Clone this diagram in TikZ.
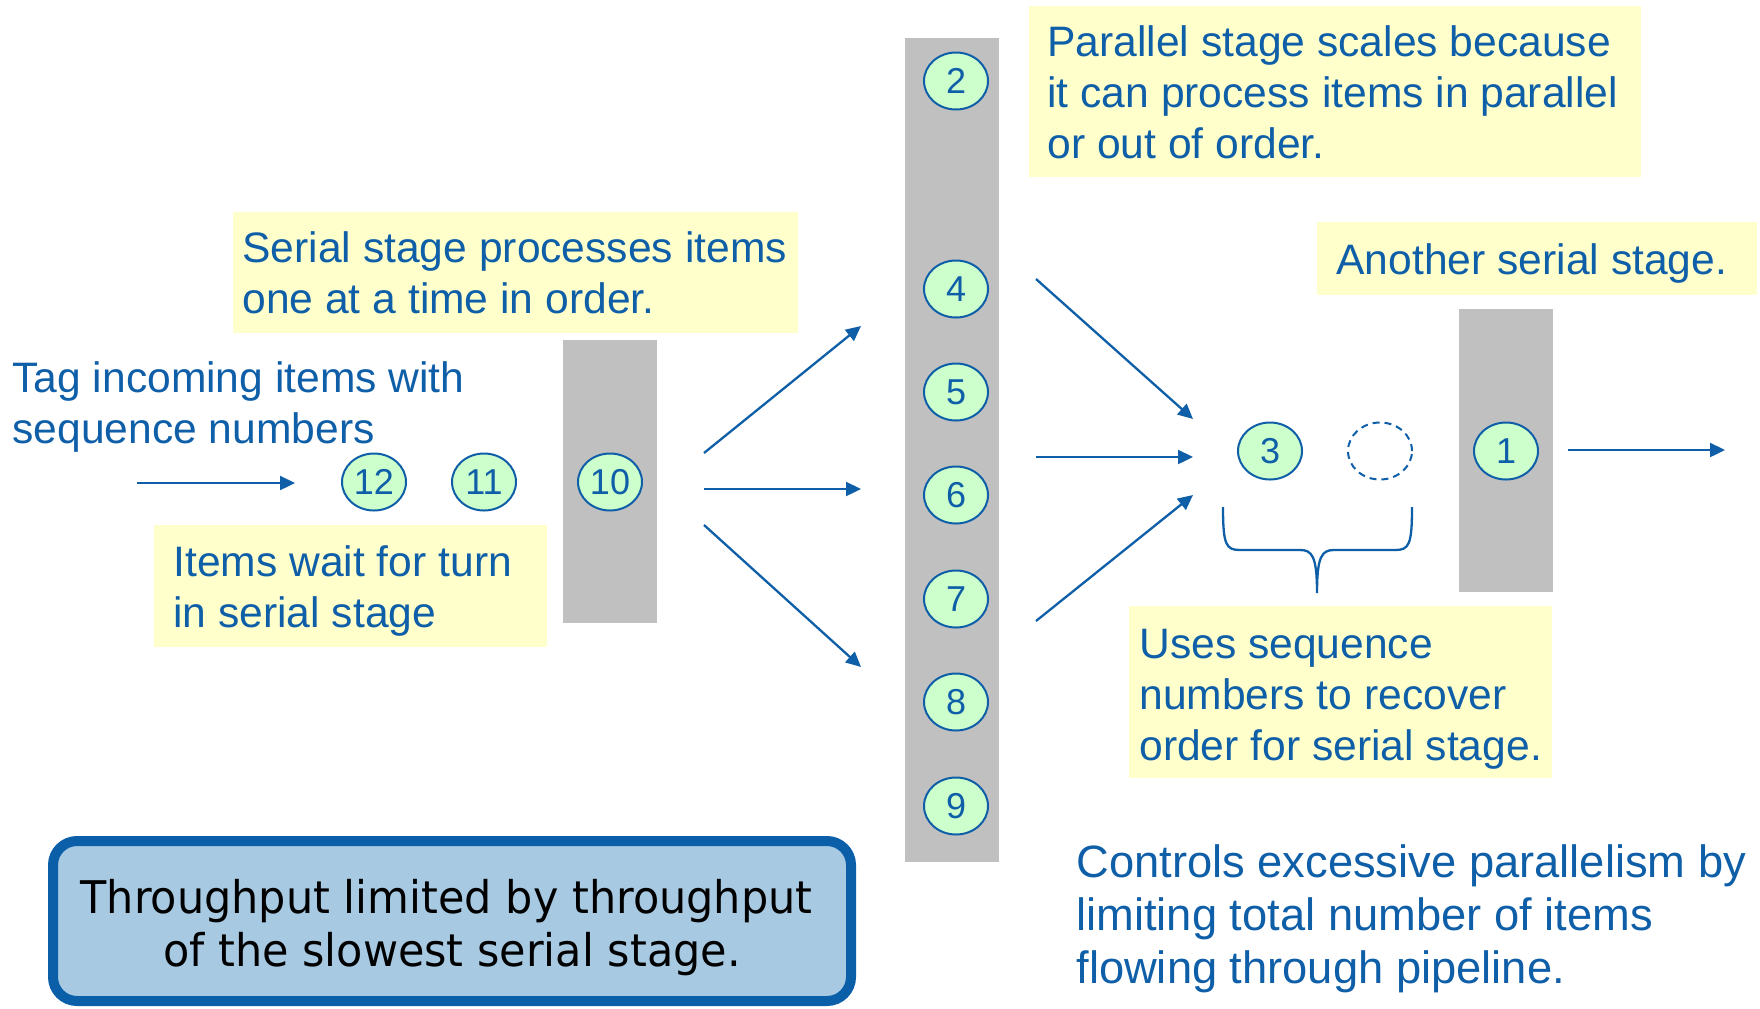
\documentclass[tikz,border=0pt]{standalone}
\usepackage{fontspec}
\setmainfont{Liberation Sans}
\newfontfamily\panelfont[FakeStretch=0.955]{DejaVu Sans}
\usetikzlibrary{arrows.meta,shapes.geometric}
\definecolor{tbbblue}{HTML}{0F5FA8}
\definecolor{notebg}{HTML}{FFFFCC}
\definecolor{stagegray}{HTML}{C0C0C0}
\definecolor{itemgreen}{HTML}{CCFFCC}
\definecolor{panelblue}{HTML}{A7C9E2}
\definecolor{panelrim}{HTML}{0B5EA8}

\begin{document}
\begin{tikzpicture}[x=0.5pt,y=-0.5pt,
  stagebar/.style={fill=stagegray, draw=none, inner sep=0pt, anchor=north west, minimum width=47pt},
  item/.style={ellipse, draw=tbbblue, line width=1pt, fill=itemgreen,
    minimum width=32pt, minimum height=28.5pt, inner sep=0pt, text=tbbblue,
    font=\fontsize{18pt}{21pt}\selectfont},
  slot/.style={ellipse, draw=tbbblue, line width=1pt, dash pattern=on 3.5pt off 2.5pt,
    minimum width=32pt, minimum height=28.5pt, inner sep=0pt},
  note/.style={fill=notebg},
  % multi-line captions are placed by the baseline of their last line
  caption/.style={anchor=base west, inner sep=0pt, align=left, text=tbbblue,
    font=\fontsize{21.3pt}{25.5pt}\selectfont},
  flow/.style={draw=tbbblue, line width=1.15pt, -{Triangle[length=7.5pt,width=7pt]}},
  brace/.style={draw=tbbblue, line width=1.15pt},
  panel/.style={draw=panelrim, fill=panelblue, line width=5pt, rounded corners=12pt,
    minimum width=399pt, minimum height=80pt},
  paneltext/.style={anchor=base, inner sep=0pt, align=center, text=black,
    font=\panelfont\fontsize{22.5pt}{26.5pt}\selectfont},
]
\useasboundingbox (0,0) rectangle (1760,1008);

% note backgrounds
\fill[note] (1029,6) rectangle (1641,177);
\fill[note] (233,212) rectangle (798,333);
\fill[note] (154,525) rectangle (547,647);
\fill[note] (1317,222) rectangle (1757,295);
\fill[note] (1129,606) rectangle (1552,778);

% stages
\node[stagebar, minimum height=141.5pt] (serialA) at (563,340) {};
\node[stagebar, minimum height=412pt] (parallel) at (905,38) {};
\node[stagebar, minimum height=141.5pt] (serialB) at (1459,309) {};

% items
\node[item] (i12) at (374,482) {12};
\node[item] (i11) at (484,482) {11};
\node[item] (i10) at (610,482) {10};
\node[item] (i2) at (956,81) {2};
\node[item] (i4) at (956,289) {4};
\node[item] (i5) at (956,392) {5};
\node[item] (i6) at (956,495) {6};
\node[item] (i7) at (956,599) {7};
\node[item] (i8) at (956,702) {8};
\node[item] (i9) at (956,806) {9};
\node[item] (i3) at (1270,451) {3};
\node[slot] (gap) at (1380,451) {};
\node[item] (i1) at (1506,451) {1};

% captions
\node[caption] (tParallel) at (1047,158) {Parallel stage scales because\\it can process items in parallel\\or out of order.};
\node[caption] (tSerial) at (242,313) {Serial stage processes items\\one at a time in order.};
\node[caption] (tTag) at (12,443) {Tag incoming items with\\sequence numbers};
\node[caption] (tWait) at (173,627) {Items wait for turn\\in serial stage};
\node[caption] (tAnother) at (1336,274) {Another serial stage.};
\node[caption] (tOrder) at (1139,760) {Uses sequence\\numbers to recover\\order for serial stage.};
\node[caption, font=\fontsize{22.65pt}{26.4pt}\selectfont] (tLimit) at (1076,983)
  {Controls excessive parallelism by\\limiting total number of items\\flowing through pipeline.};

% throughput panel
\node[panel] (throughput) at (452,921) {};
\node[paneltext] (throughputText) at (452,966) {Throughput limited by throughput\hspace*{5.5pt}\\of the slowest serial stage.};

% connectors
\coordinate (inTail) at (137,483);
\coordinate (inHead) at (295,483);
\draw[flow] (inTail) -- (inHead);

\coordinate (fanUpT) at (704,453);  \coordinate (fanUpH) at (861,326);
\coordinate (fanMidT) at (704,489); \coordinate (fanMidH) at (861,489);
\coordinate (fanLoT) at (704,525);  \coordinate (fanLoH) at (861,667);
\draw[flow] (fanUpT) -- (fanUpH);
\draw[flow] (fanMidT) -- (fanMidH);
\draw[flow] (fanLoT) -- (fanLoH);

\coordinate (joinUpT) at (1036,279);  \coordinate (joinUpH) at (1193,419);
\coordinate (joinMidT) at (1036,457); \coordinate (joinMidH) at (1193,457);
\coordinate (joinLoT) at (1036,621);  \coordinate (joinLoH) at (1193,495);
\draw[flow] (joinUpT) -- (joinUpH);
\draw[flow] (joinMidT) -- (joinMidH);
\draw[flow] (joinLoT) -- (joinLoH);

\coordinate (outTail) at (1568,450);
\coordinate (outHead) at (1725,450);
\draw[flow] (outTail) -- (outHead);

% brace under the reorder buffer
\draw[brace] (1223,507) .. controls (1223,545) and (1226,550) .. (1240,550)
  -- (1300,550) .. controls (1312,550) and (1317,556) .. (1317,593)
  .. controls (1317,556) and (1322,550) .. (1334,550)
  -- (1395,550) .. controls (1409,550) and (1412,545) .. (1412,507);
\end{tikzpicture}
\end{document}
